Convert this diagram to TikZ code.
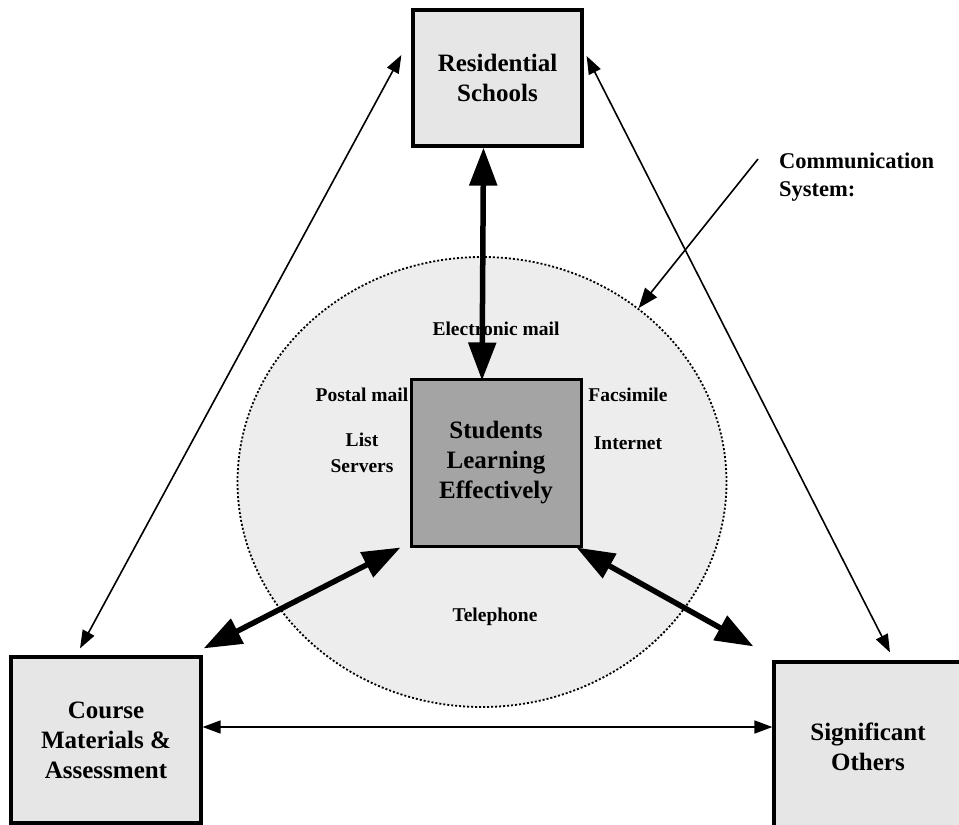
\documentclass[tikz,border=0pt]{standalone}
\usepackage{fontspec}
\setmainfont{Liberation Serif}
\usepackage{xcolor}
\usepackage{tikz}
\usetikzlibrary{arrows.meta,shapes.geometric}
\definecolor{boxgrey}{HTML}{E6E6E6}
\definecolor{stugrey}{HTML}{A4A4A4}
\definecolor{sysgrey}{HTML}{EDEDED}
\tikzstyle{every node}=[font=\bfseries]
\tikzstyle{partner}=[draw=black,line width=3.2pt,fill=boxgrey,align=center,inner sep=0pt,font=\fontsize{25}{30}\bfseries]
\tikzstyle{medium}=[align=center,inner sep=0pt,font=\fontsize{19.5}{26}\bfseries]
\tikzstyle{thinarr}=[line width=1.6pt,{Triangle[length=18pt,width=13pt]}-{Triangle[length=18pt,width=13pt]}]
\tikzstyle{thickarr}=[line width=5.5pt,{Triangle[length=38pt,width=27pt]}-{Triangle[length=38pt,width=27pt]}]

\begin{document}
\begin{tikzpicture}[x=1pt,y=-1pt]
	\useasboundingbox (0,0) rectangle (959,825);
	% communication system
	\node[ellipse,draw=black,line width=1.8pt,dash pattern=on 2pt off 2pt,fill=sysgrey,
		minimum width=489pt,minimum height=450pt,inner sep=0pt] (sys) at (482,482) {};
	% the four parties
	\node[partner,minimum width=169pt,minimum height=136pt] (res) at (497.5,78) {Residential\\Schools};
	\node[partner,fill=stugrey,line width=3pt,minimum width=170pt,minimum height=167pt] (stu) at (496,462.5) {Students\\Learning\\Effectively};
	\node[partner,minimum width=190pt,minimum height=166pt] (crs) at (106,740) {Course\\Materials \&\\Assessment};
	\node[partner,minimum width=188pt,minimum height=170pt] (sig) at (868,747) {Significant\\Others};
	% media
	\node[medium] (email) at (496,329) {Electronic mail};
	\node[medium] (postal) at (362,395) {Postal mail};
	\node[medium] (list) at (362,453) {List\\Servers};
	\node[medium] (fax) at (628,395) {Facsimile};
	\node[medium] (inet) at (628,443) {Internet};
	\node[medium] (tel) at (495,617) {Telephone};
	\node[anchor=north west,align=left,inner sep=0pt,font=\fontsize{22.5}{28}\bfseries] (comm) at (779,153) {Communication\\System:};
	\coordinate (commtail) at (758,159);
	% links
	\draw[thinarr] ([shift={(-10pt,23pt)}]res.west) -- ([shift={(-26pt,7pt)}]crs.north);
	\draw[thinarr] ([shift={(3pt,22pt)}]res.east) -- ([shift={(22pt,8pt)}]sig.north);
	\draw[thinarr] ([yshift=13pt]crs.east) -- ([yshift=13pt]crs.east -| sig.west);
	\draw[thickarr] ([xshift=-14pt]res.south) -- ([xshift=-14pt,yshift=-3pt]stu.north);
	\draw[thickarr] ([xshift=-9pt]stu.south west) -- ([xshift=1pt,yshift=7pt]crs.north east);
	\draw[thickarr] ([xshift=-6pt]stu.south east) -- ([shift={(-19pt,14pt)}]sig.north west);
	\draw[line width=1.6pt,-{Triangle[length=20pt,width=15pt]}] (commtail) -- (sys.48);
\end{tikzpicture}
\end{document}
